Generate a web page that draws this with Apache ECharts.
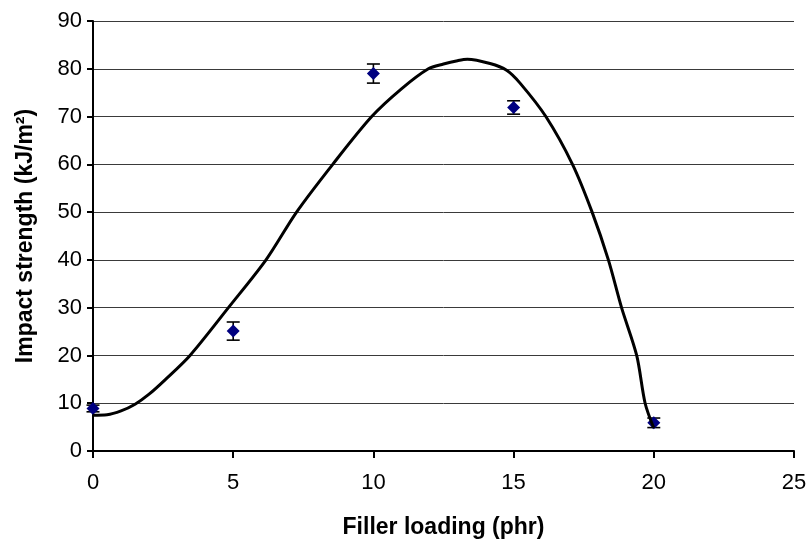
<!DOCTYPE html>
<html>
<head>
<meta charset="utf-8">
<script src="https://cdn.jsdelivr.net/npm/echarts@6/dist/echarts.min.js"></script>
<style>
    html, body { margin: 0; padding: 0; background: #fff; }
    #impact-chart { width: 811px; height: 547px; }
</style>
</head>
<body>
<div id="impact-chart"></div>
<script>
// measured points (mean and error)
var loading = [0, 5, 10, 15, 20];
var strength = [8.9, 25.1, 79.0, 71.9, 5.9];
var strengthErr = [0.7, 1.9, 2.0, 1.4, 1.0];

// fitted trend curve
var trendX = [0, 0.5, 1, 1.5, 2, 2.57, 3.46, 4.83, 6.17, 7.26, 8.55, 9.94, 11.0, 11.96, 12.5, 13.0, 13.35, 14.16, 14.75, 15.23, 16.15, 17.1, 17.8, 18.38, 18.85, 19.39, 19.69, 20.0];
var trendY = [7.5, 7.6, 8.4, 9.8, 11.9, 14.9, 20, 30, 40, 50, 60, 70, 75.8, 80, 81, 81.7, 82, 81.1, 79.7, 77, 70, 60, 50, 40, 30, 20, 10, 4.8];

var xName = 'Filler loading (phr)';
var yName = 'Impact strength (kJ/m²)';

var Charts = function() {
    var fontFamily = 'Liberation Sans, Arial, sans-serif';
    var labelFont = { color: '#000', fontSize: 22, fontFamily: fontFamily };
    var nameFont = { color: '#000', fontSize: 23, fontWeight: 'bold', fontFamily: fontFamily };

    var _option = function() {
        var points = loading.map(function(x, i) { return [x, strength[i]]; });
        var bars = loading.map(function(x, i) {
            return [x, strength[i] - strengthErr[i], strength[i] + strengthErr[i]];
        });
        var curve = trendX.map(function(x, i) { return [x, trendY[i]]; });

        return {
            animation: false,
            grid: { left: 93, right: 17, top: 21, bottom: 96 },
            xAxis: {
                type: 'value',
                min: 0,
                max: 25,
                interval: 5,
                name: xName,
                nameLocation: 'middle',
                nameGap: 65,
                nameTextStyle: nameFont,
                axisLine: { onZero: false, lineStyle: { color: '#000', width: 2 } },
                axisTick: { show: true, inside: false, length: 7, lineStyle: { color: '#000', width: 2 } },
                axisLabel: Object.assign({ margin: 21 }, labelFont),
                splitLine: { show: false }
            },
            yAxis: {
                type: 'value',
                min: 0,
                max: 90,
                interval: 10,
                name: yName,
                nameLocation: 'middle',
                nameGap: 56,
                nameTextStyle: nameFont,
                axisLine: { show: true, lineStyle: { color: '#000', width: 2 } },
                axisTick: { show: true, inside: false, length: 6, lineStyle: { color: '#000', width: 2 } },
                axisLabel: Object.assign({ margin: 11 }, labelFont),
                splitLine: { show: true, lineStyle: { color: '#3a3a3a', width: 1 } }
            },
            series: [
                {
                    // error bars
                    type: 'custom',
                    z: 2,
                    data: bars,
                    renderItem: function(params, api) {
                        var lo = api.coord([api.value(0), api.value(1)]);
                        var hi = api.coord([api.value(0), api.value(2)]);
                        var w = 6.5;
                        var style = { stroke: '#000', lineWidth: 1.6 };
                        return {
                            type: 'group',
                            children: [
                                { type: 'line', shape: { x1: lo[0], y1: lo[1], x2: hi[0], y2: hi[1] }, style: style },
                                { type: 'line', shape: { x1: lo[0] - w, y1: lo[1], x2: lo[0] + w, y2: lo[1] }, style: style },
                                { type: 'line', shape: { x1: hi[0] - w, y1: hi[1], x2: hi[0] + w, y2: hi[1] }, style: style }
                            ]
                        };
                    }
                },
                {
                    name: 'Impact strength',
                    type: 'scatter',
                    z: 3,
                    symbol: 'diamond',
                    symbolSize: [13, 13],
                    itemStyle: { color: '#000080', opacity: 1 },
                    data: points
                },
                {
                    name: 'Trend',
                    type: 'line',
                    z: 4,
                    smooth: 0.3,
                    showSymbol: false,
                    lineStyle: { color: '#000', width: 3 },
                    data: curve
                }
            ]
        };
    };

    return {
        init: function() {
            if (typeof echarts == 'undefined') {
                console.warn('Warning - echarts.min.js is not loaded.');
                return;
            }
            var el = document.getElementById('impact-chart');
            var myChart = echarts.init(el);
            myChart.setOption(_option());
        }
    };
}();

document.addEventListener('DOMContentLoaded', function() {
    Charts.init();
});
</script>
</body>
</html>
